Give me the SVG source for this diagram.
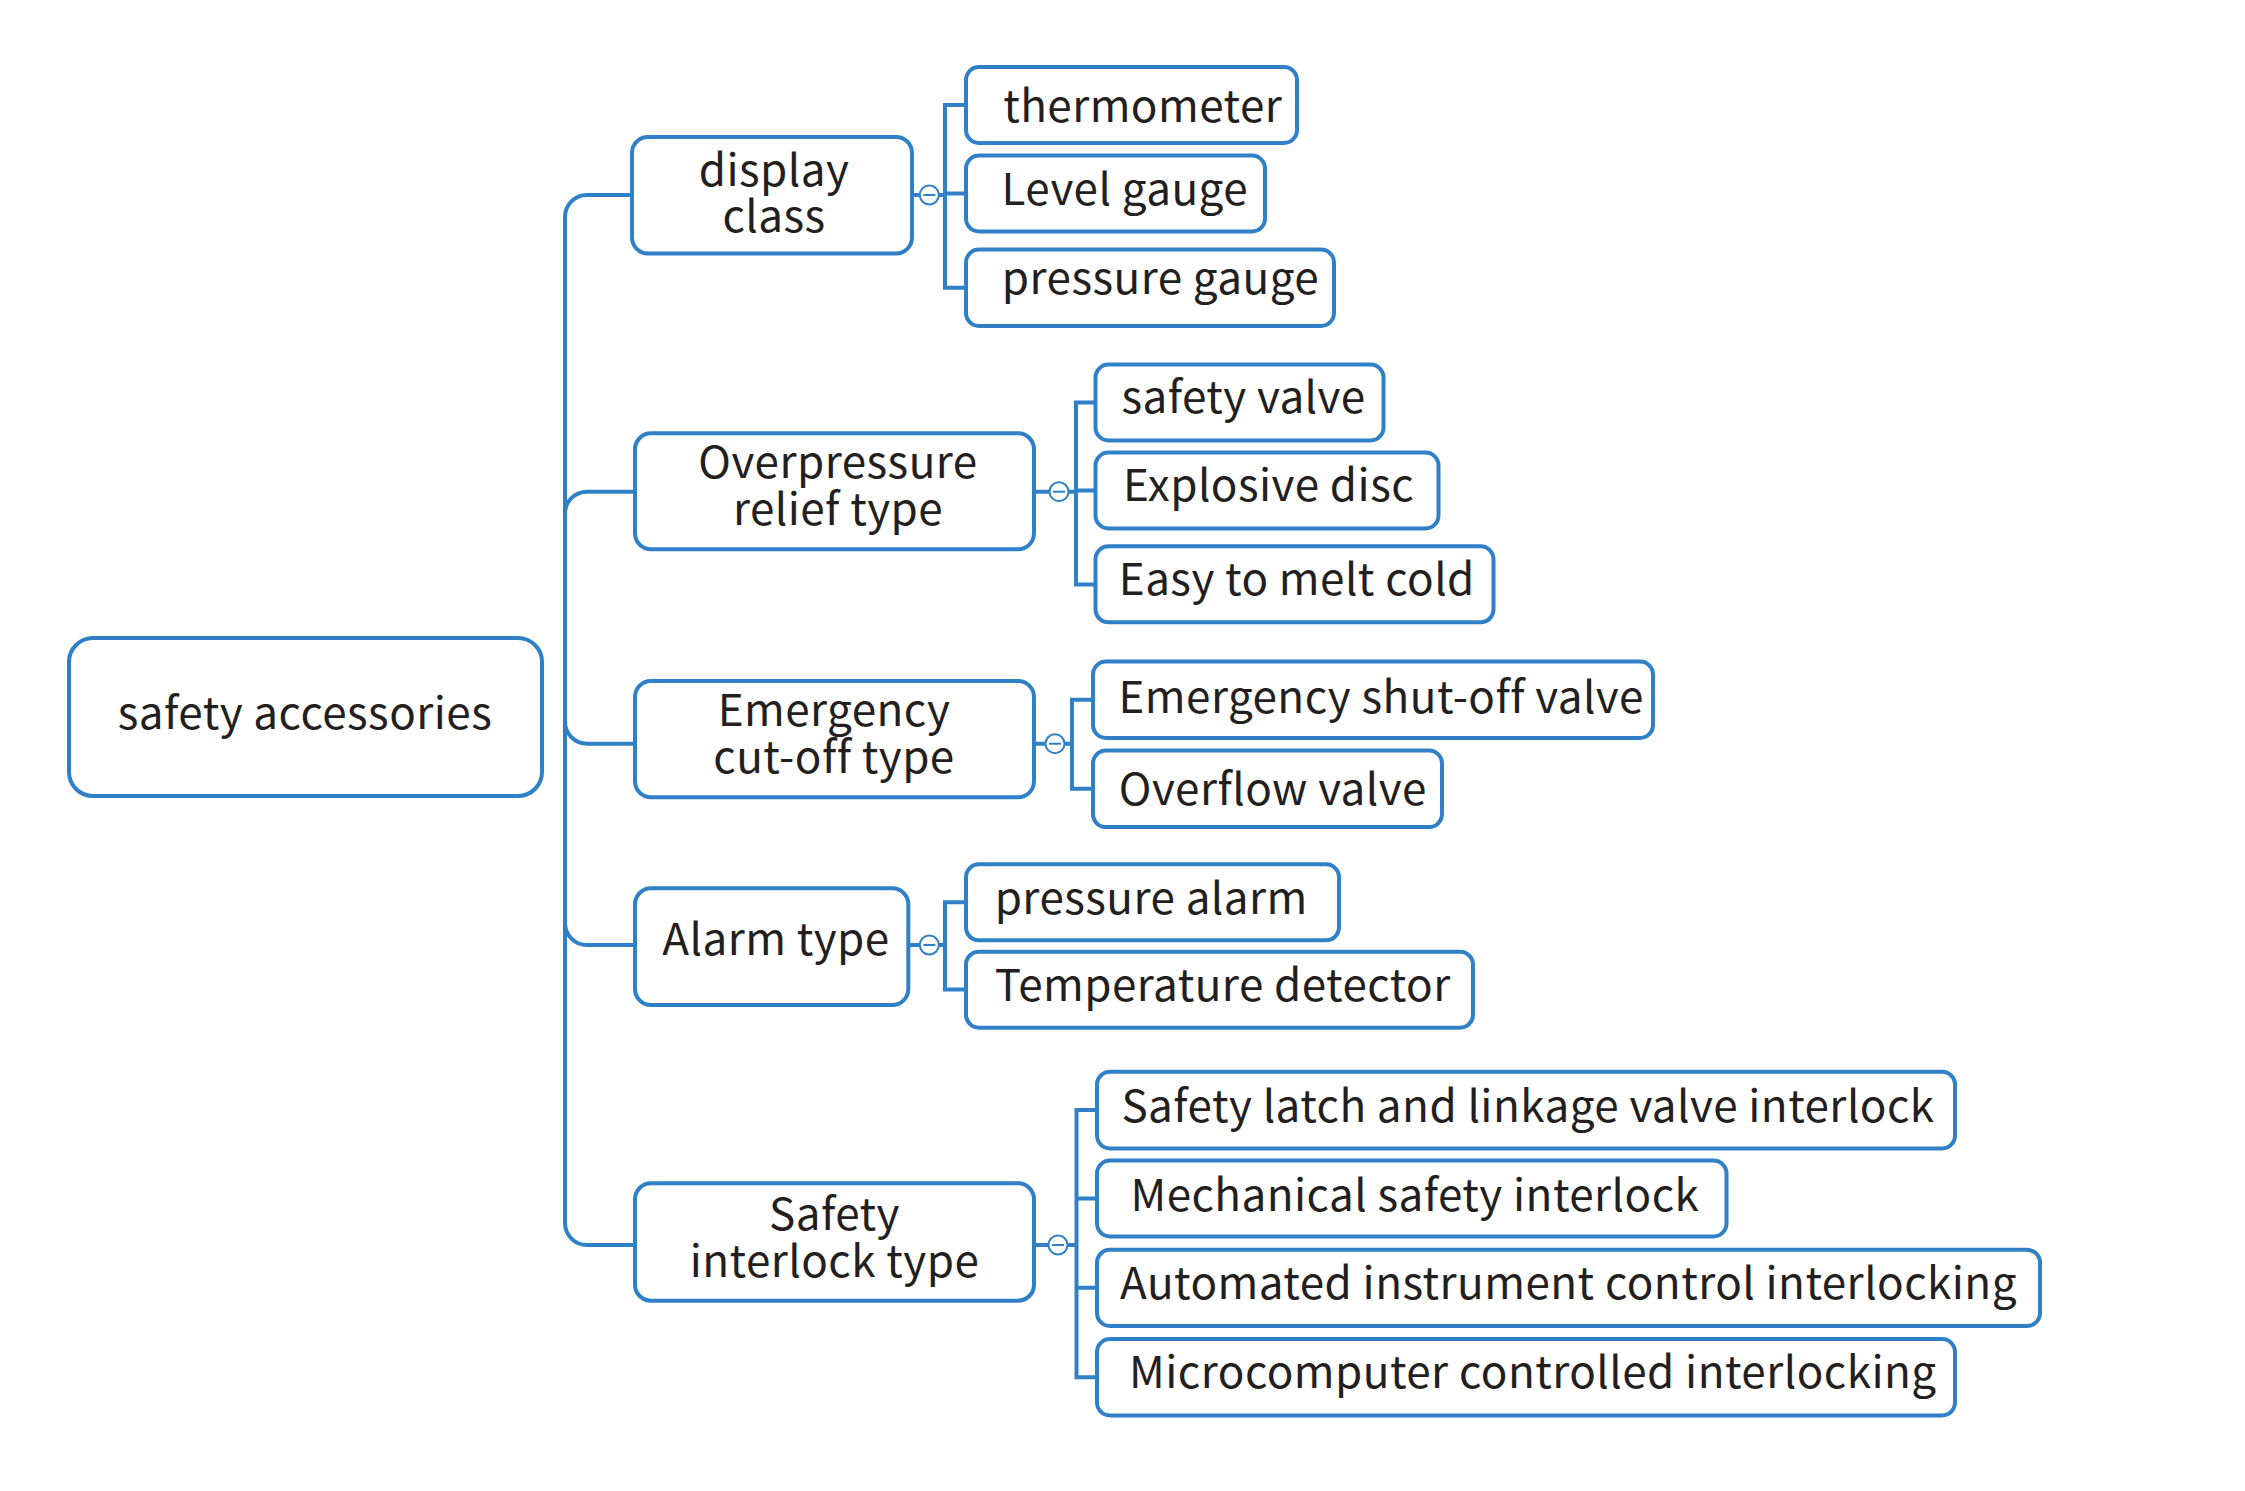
<svg xmlns="http://www.w3.org/2000/svg" width="2245" height="1491" viewBox="0 0 2245 1491">
<style>
.box{fill:#ffffff;stroke:#2f80c7;stroke-width:4}
.ln{fill:none;stroke:#2f80c7;stroke-width:4}
.col{fill:#ffffff;stroke:#2f80c7;stroke-width:2}
.mn{stroke:#2f80c7;stroke-width:2}
text{font-family:"Noto Sans CJK SC","Source Han Sans SC","Noto Sans",sans-serif;font-size:44px;letter-spacing:0.45px;fill:#231f20;text-anchor:middle}
</style>
<rect width="2245" height="1491" fill="#ffffff"/>
<g id="connectors">
<path class="ln" d="M565,716 V217 A22,22 0 0 1 587,195 H632"/>
<path class="ln" d="M565,716 V513.7 A22,22 0 0 1 587,491.7 H635"/>
<path class="ln" d="M565,716 V721.7 A22,22 0 0 0 587,743.7 H635"/>
<path class="ln" d="M565,716 V923 A22,22 0 0 0 587,945 H635"/>
<path class="ln" d="M565,716 V1223 A22,22 0 0 0 587,1245 H635"/>
<path class="ln" d="M911.7,195 H920 M938.6,195 H945 M966,105 H945 V287.7 H966 M945,193.5 H966"/>
<path class="ln" d="M1034,491.7 H1049.5 M1068.5,491.7 H1076 M1095.5,402.5 H1076 V584.4 H1095.5 M1076,490.5 H1095.5"/>
<path class="ln" d="M1034,743.7 H1045.5 M1064.5,743.7 H1072 M1093,699.8 H1072 V788.8 H1093"/>
<path class="ln" d="M908.3,945 H920 M938.6,945 H945 M966,902.2 H945 V989.6 H966"/>
<path class="ln" d="M1034,1245 H1048.5 M1067.5,1245 H1076.5 M1097,1110 H1076.5 V1377.2 H1097 M1076.5,1198.5 H1097 M1076.5,1287.8 H1097"/>
<circle class="col" cx="929.3" cy="195" r="9.5"/><line class="mn" x1="923.3" y1="195" x2="935.3" y2="195"/>
<circle class="col" cx="1059" cy="491.7" r="9.5"/><line class="mn" x1="1053" y1="491.7" x2="1065" y2="491.7"/>
<circle class="col" cx="1055" cy="743.7" r="9.5"/><line class="mn" x1="1049" y1="743.7" x2="1061" y2="743.7"/>
<circle class="col" cx="929.3" cy="945" r="9.5"/><line class="mn" x1="923.3" y1="945" x2="935.3" y2="945"/>
<circle class="col" cx="1058" cy="1245" r="9.5"/><line class="mn" x1="1052" y1="1245" x2="1064" y2="1245"/>
</g>
<g id="root"><rect class="box" x="69" y="638" width="473" height="158" rx="24"/><text x="305" y="728.5">safety accessories</text></g>
<g id="display"><rect class="box" x="632" y="137" width="280" height="116.5" rx="16"/><text><tspan x="774" y="186">display</tspan><tspan x="774" y="231.7">class</tspan></text></g>
<g id="overpressure"><rect class="box" x="635" y="433.3" width="399" height="116" rx="16"/><text><tspan x="838" y="478">Overpressure</tspan><tspan x="838" y="525">relief type</tspan></text></g>
<g id="emergency"><rect class="box" x="635" y="681" width="399" height="116.3" rx="16"/><text><tspan x="834" y="726">Emergency</tspan><tspan x="834" y="772.7">cut-off type</tspan></text></g>
<g id="alarm"><rect class="box" x="635" y="888.3" width="273.3" height="116.7" rx="16"/><text x="776" y="955">Alarm type</text></g>
<g id="interlock"><rect class="box" x="635" y="1183.3" width="399" height="117.4" rx="16"/><text><tspan x="834.5" y="1230">Safety</tspan><tspan x="834.5" y="1276.7">interlock type</tspan></text></g>
<g id="thermometer"><rect class="box" x="966" y="67" width="331" height="76" rx="13"/><text x="1142.7" y="122">thermometer</text></g>
<g id="level-gauge"><rect class="box" x="966" y="155.5" width="299" height="76" rx="13"/><text x="1124.8" y="205">Level gauge</text></g>
<g id="pressure-gauge"><rect class="box" x="966" y="249.5" width="368" height="76.5" rx="13"/><text x="1160.5" y="293.5">pressure gauge</text></g>
<g id="safety-valve"><rect class="box" x="1095.5" y="364.5" width="288" height="76" rx="13"/><text x="1243.5" y="413">safety valve</text></g>
<g id="explosive-disc"><rect class="box" x="1095.5" y="452.5" width="343" height="76" rx="13"/><text x="1268.5" y="501">Explosive disc</text></g>
<g id="easy-melt"><rect class="box" x="1095.5" y="546.3" width="398" height="76" rx="13"/><text x="1296.8" y="595">Easy to melt cold</text></g>
<g id="shutoff-valve"><rect class="box" x="1093" y="661.5" width="560" height="76.5" rx="13"/><text x="1381.2" y="712.5">Emergency shut-off valve</text></g>
<g id="overflow-valve"><rect class="box" x="1093" y="750.6" width="349" height="76.5" rx="13"/><text x="1272.8" y="804.5">Overflow valve</text></g>
<g id="pressure-alarm"><rect class="box" x="966" y="864.3" width="373" height="76" rx="13"/><text x="1151.2" y="913.5">pressure alarm</text></g>
<g id="temperature-detector"><rect class="box" x="966" y="951.7" width="507" height="76" rx="13"/><text x="1222.7" y="1000.8">Temperature detector</text></g>
<g id="latch-interlock"><rect class="box" x="1097" y="1071.7" width="858" height="76.8" rx="13"/><text x="1528" y="1121.8">Safety latch and linkage valve interlock</text></g>
<g id="mechanical-interlock"><rect class="box" x="1097" y="1160.5" width="629.5" height="76" rx="13"/><text x="1414.9" y="1211">Mechanical safety interlock</text></g>
<g id="automated-interlock"><rect class="box" x="1097" y="1249.7" width="943" height="76.3" rx="13"/><text x="1568.5" y="1298.5">Automated instrument control interlocking</text></g>
<g id="microcomputer-interlock"><rect class="box" x="1097" y="1339" width="858" height="76.5" rx="13"/><text x="1532.8" y="1388">Microcomputer controlled interlocking</text></g>
</svg>
